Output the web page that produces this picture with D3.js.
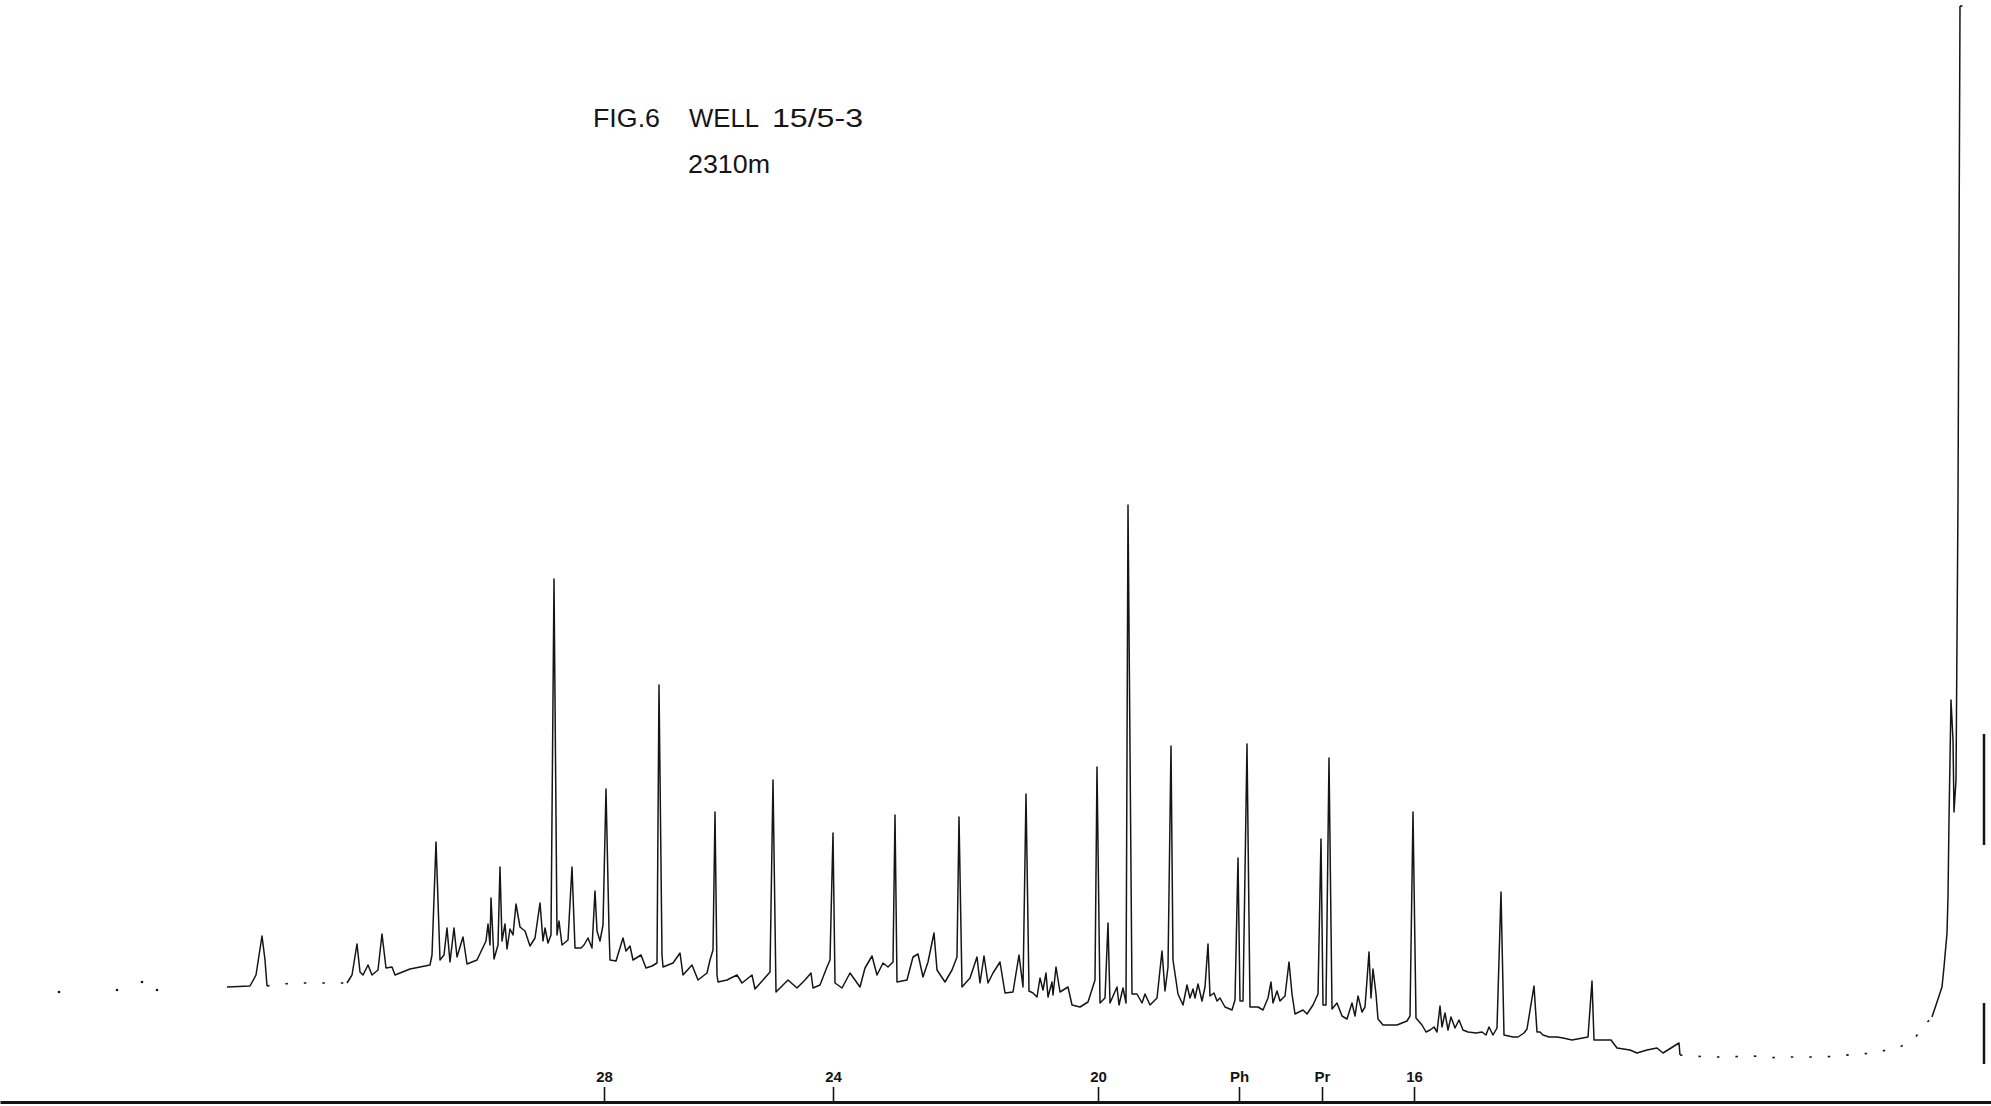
<!DOCTYPE html>
<html>
<head>
<meta charset="utf-8">
<script src="https://cdn.jsdelivr.net/npm/d3@7/dist/d3.min.js"></script>
<style>
  html, body { margin: 0; padding: 0; background: #fff; }
  svg { display: block; }
</style>
</head>
<body>
<svg id="chart" width="1991" height="1106"></svg>
<script>
// ---- DATA ----
// retention position (chart units, increasing to the right) and detector response
const leadingDots = [[5.9,108],[11.7,110],[14.2,118],[15.7,110]];

const chromatogram = [
[22.7,113],[25.0,114],[25.6,125],[26.2,164],[26.5,140],[26.7,114],[28.0,116],[30.0,117],[33.3,117],
[34.7,117],[35.2,125],[35.7,156],[36.0,128],[36.3,125],[36.8,135],[37.2,125],[37.8,130],[38.2,166],
[38.6,132],[39.2,133],[39.5,125],[41.0,131],[43.0,135],[43.2,145],[43.6,258],[44.0,140],[44.4,145],
[44.7,172],[45.0,138],[45.4,172],[45.7,143],[46.3,163],[46.7,136],[47.7,140],[48.6,159],[48.8,176],
[49.0,155],[49.1,202],[49.4,141],[49.8,155],[50.0,233],[50.2,159],[50.5,176],[50.7,151],[51.0,171],
[51.3,165],[51.6,196],[52.0,173],[52.5,169],[53.0,154],[53.5,162],[54.0,197],[54.3,159],[54.5,172],
[54.8,157],[55.1,165],[55.4,521],[55.7,165],[55.9,179],[56.2,155],[56.8,160],[57.2,233],[57.5,152],
[58.1,152],[58.4,155],[58.8,162],[59.2,152],[59.5,209],[59.7,169],[60.0,159],[60.3,175],[60.6,311],
[60.9,170],[61.0,140],[61.6,139],[62.3,162],[62.6,149],[63.0,154],[63.3,140],[64.1,145],[64.6,132],
[65.2,134],[65.7,137],[65.9,415],[66.2,145],[66.3,133],[67.3,137],[68.0,147],[68.3,125],[69.2,135],
[69.8,120],[70.7,127],[71.0,140],[71.3,150],[71.5,288],[71.7,125],[71.8,118],[72.7,120],[73.7,125],
[74.2,117],[75.2,125],[75.5,111],[76.3,120],[77.0,128],[77.3,320],[77.6,108],[78.8,120],[79.7,112],
[80.5,120],[81.1,127],[81.3,112],[82.0,115],[82.7,133],[83.0,140],[83.3,267],[83.5,117],[84.2,112],
[85.0,127],[86.0,113],[86.5,132],[87.2,144],[87.7,125],[88.3,137],[88.8,133],[89.3,138],[89.5,285],
[89.7,118],[90.7,120],[91.3,143],[91.8,146],[92.3,123],[92.8,138],[93.4,167],[93.7,130],[94.5,118],
[95.2,130],[95.7,143],[95.9,283],[96.2,113],[97.0,122],[97.7,143],[98.0,117],[98.4,144],[98.8,117],
[99.3,127],[100.0,138],[100.5,107],[101.3,108],[101.9,145],[102.3,113],[102.6,306],[102.9,109],
[103.3,107],[103.7,103],[104.0,122],[104.3,110],[104.6,127],[104.8,103],[105.2,118],[105.3,105],
[105.6,133],[106.0,108],[106.8,113],[107.2,95],[108.0,93],[108.8,98],[109.5,120],[109.7,333],
[110.0,97],[110.5,102],[110.8,177],[111.0,97],[111.7,113],[111.9,95],[112.3,112],[112.6,97],
[112.8,595],[113.2,106],[113.7,106],[114.2,97],[114.5,106],[115.0,95],[115.7,102],[116.2,149],
[116.5,109],[116.8,133],[117.1,354],[117.3,140],[117.8,106],[118.3,95],[118.7,115],[119.0,102],
[119.3,111],[119.5,102],[119.8,116],[120.2,99],[120.5,113],[120.8,156],[121.0,104],[121.4,107],
[121.7,99],[122.0,102],[122.5,93],[123.2,90],[123.5,100],[123.8,242],[124.0,99],[124.3,99],
[124.7,356],[125.0,93],[125.8,93],[126.3,90],[126.8,102],[127.1,118],[127.3,97],[127.7,109],
[128.0,99],[128.5,104],[128.9,138],[129.2,106],[129.5,86],[130.3,90],[130.7,86],[131.3,95],
[131.8,106],[132.1,261],[132.3,95],[132.6,95],[132.9,342],[133.2,91],[133.7,97],[134.2,84],
[134.7,81],[135.2,97],[135.5,84],[135.8,104],[136.2,88],[136.5,93],[136.7,120],[136.9,148],
[137.1,102],[137.3,131],[137.6,106],[137.8,81],[138.3,75],[139.7,75],[140.7,79],[141.0,84],
[141.3,288],[141.6,82],[142.2,75],[142.6,68],[143.0,70],[143.4,73],[143.7,68],[144.0,94],[144.2,73],
[144.5,87],[144.8,70],[145.1,83],[145.5,72],[145.9,80],[146.3,70],[146.8,68],[147.6,67],[148.2,68],
[148.6,65],[148.9,73],[149.3,65],[149.7,72],[150.1,208],[150.4,65],[151.3,63],[151.8,63],[152.4,67],
[152.7,71],[153.4,114],[153.7,68],[154.0,68],[154.3,65],[154.9,63],[155.7,63],[156.3,62],[157.2,60],
[158.8,63],[159.2,119],[159.4,60],[161.1,60],[161.7,52],[163.0,50],[163.7,47],[164.7,50],[165.7,52],
[166.3,47],[167.9,57],[168.0,45],[170.7,43],[172.5,43],[175.2,44],[178.0,42],[179.0,43],[182.2,43],
[183.7,44],[185.7,46],[187.7,47],[189.2,52],[190.0,53],[191.5,62],[192.3,73],[193.2,83],[193.7,98],
[194.2,113],[194.4,133],[194.7,167],[194.8,203],[194.9,280],[195.0,340],[195.1,400],[195.3,360],
[195.4,288],[195.6,320],[195.8,600],[196.0,1094],[197.2,1094]
];

// stretches where the pen trace is faint / broken
const faintRanges = [[26.7, 34.7], [168.0, 193.2], [196.0, 197.2]];

// attenuation marks at the right edge: [position, from, to]
const edgeMarks = [[198.4,255,366],[198.4,36,97]];

const tickPositions = [60.4, 83.3, 109.8, 123.9, 132.2, 141.4];
const tickLabels = ["28", "24", "20", "Ph", "Pr", "16"];

const titleWords = ["FIG.6", "WELL", "15/5-3"];
const subtitle = "2310m";

// ---- DRAWING ----
const W = 1991, H = 1106;
const svg = d3.select("#chart");

const x = d3.scaleLinear().domain([0, 199.1]).range([0, W]);
const y = d3.scaleLinear().domain([0, 1100]).range([1100, 0]);

const ink = "#151515";

// axis along the bottom, ticks pointing up
const axis = d3.axisTop(x)
  .tickValues(tickPositions)
  .tickFormat((d, i) => tickLabels[i])
  .tickSize(15)
  .tickSizeOuter(0)
  .tickPadding(5);

const gAxis = svg.append("g")
  .attr("transform", "translate(0,1102)")
  .call(axis);
gAxis.select(".domain").attr("stroke", ink).attr("stroke-width", 3);
gAxis.selectAll(".tick line").attr("stroke", ink).attr("stroke-width", 1.6);
gAxis.selectAll(".tick text")
  .attr("fill", ink)
  .style("font-family", "'Liberation Sans', Arial, sans-serif")
  .style("font-size", "15px")
  .style("font-weight", "bold");

// split trace into solid and faint runs
const isFaint = (a, b) => faintRanges.some(r => a[0] >= r[0] && b[0] <= r[1]);
const runs = [];
for (let i = 0; i < chromatogram.length - 1; i++) {
  const a = chromatogram[i], b = chromatogram[i + 1];
  const f = isFaint(a, b);
  const last = runs[runs.length - 1];
  if (last && last.faint === f) last.pts.push(b);
  else runs.push({ faint: f, pts: [a, b] });
}

const line = d3.line().x(d => x(d[0])).y(d => y(d[1]));
svg.selectAll("path.trace")
  .data(runs)
  .enter().append("path")
  .attr("class", "trace")
  .attr("d", d => line(d.pts))
  .attr("fill", "none")
  .attr("stroke", ink)
  .attr("stroke-width", d => d.faint ? 1.6 : 1.5)
  .attr("stroke-dasharray", d => d.faint ? "2.5,16" : null)
  .attr("stroke-linejoin", "round");

svg.selectAll("circle.dot")
  .data(leadingDots)
  .enter().append("circle")
  .attr("class", "dot")
  .attr("cx", d => x(d[0]))
  .attr("cy", d => y(d[1]))
  .attr("r", 1.3)
  .attr("fill", ink);

svg.selectAll("line.edge")
  .data(edgeMarks)
  .enter().append("line")
  .attr("class", "edge")
  .attr("x1", d => x(d[0])).attr("x2", d => x(d[0]))
  .attr("y1", d => y(d[1])).attr("y2", d => y(d[2]))
  .attr("stroke", ink).attr("stroke-width", 2.5);

// title
const titleFont = "'Liberation Sans', Arial, sans-serif";
const titleX = [593, 689, 772];
const titleW = [67, 70, 91];
svg.selectAll("text.title")
  .data(titleWords)
  .enter().append("text")
  .attr("class", "title")
  .attr("x", (d, i) => titleX[i])
  .attr("y", 127)
  .attr("textLength", (d, i) => titleW[i])
  .attr("lengthAdjust", "spacingAndGlyphs")
  .style("font-family", titleFont)
  .style("font-size", "25px")
  .attr("fill", ink)
  .text(d => d);

svg.append("text")
  .attr("x", 688)
  .attr("y", 173)
  .attr("textLength", 82)
  .attr("lengthAdjust", "spacingAndGlyphs")
  .style("font-family", titleFont)
  .style("font-size", "25px")
  .attr("fill", ink)
  .text(subtitle);
</script>
</body>
</html>
